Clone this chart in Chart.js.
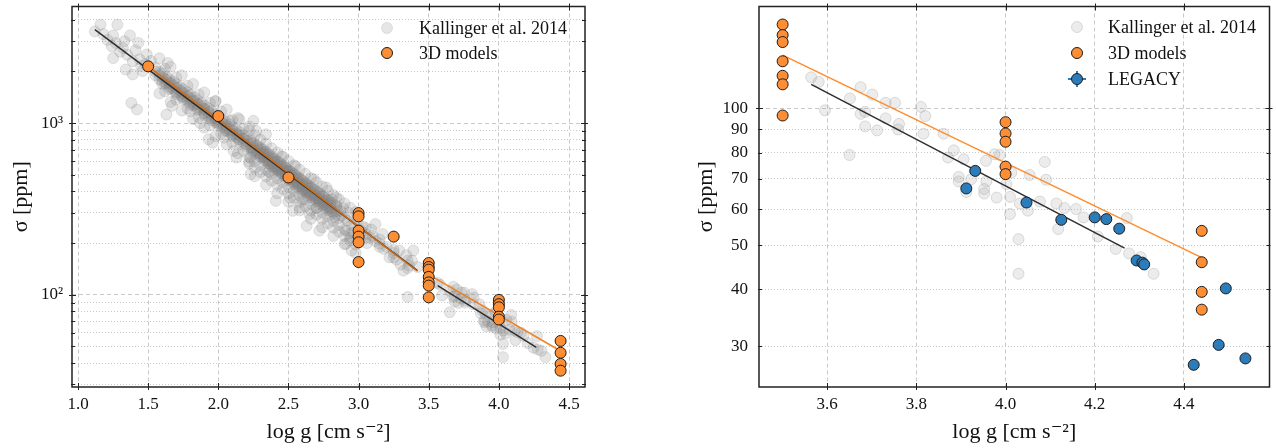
<!DOCTYPE html>
<html>
<head>
<meta charset="utf-8">
<script src="https://cdn.jsdelivr.net/npm/chart.js@4.4.1/dist/chart.umd.min.js"></script>
<style>
  html, body { margin: 0; padding: 0; background: #fff; }
  #wrap { position: relative; width: 1276px; height: 448px; }
  .panel { position: absolute; top: 0; height: 448px; }
</style>
</head>
<body>
<div id="wrap">
  <div class="panel" style="left:0;width:610px"><canvas id="giants"></canvas></div>
  <div class="panel" style="left:680px;width:596px"><canvas id="dwarfs"></canvas></div>
</div>
<script>
// Kallinger et al. 2014 sample: [log g, sigma in ppm]
const kallinger = [
  [1.12,3420],[1.16,3740],[1.28,3740],[1.25,3240],[1.37,3240],[1.27,2930],[1.32,2740],[1.43,2930],[1.25,2390],
  [1.34,2050],[1.39,2290],[1.39,1920],[1.49,2510],[1.46,2010],[1.38,1310],[1.42,1200],[1.21,3050],[1.30,2600],
  [1.35,2500],[1.44,2350],[1.48,2200],[1.41,2650],[1.18,3300],[1.24,2800],[1.33,3000],[1.45,2150],[1.52,2300],
  [1.55,2000],[1.55,1900],[1.55,2100],[1.58,1900],[1.58,1800],[1.58,1980],[1.60,1850],[1.60,1760],[1.60,1950],
  [1.60,1700],[1.63,1780],[1.63,1700],[1.63,1860],[1.65,1720],[1.65,1640],[1.65,1800],[1.65,1580],[1.68,1660],
  [1.68,1580],[1.68,1740],[1.70,1600],[1.70,1520],[1.70,1690],[1.70,1470],[1.73,1540],[1.73,1470],[1.73,1620],
  [1.75,1490],[1.75,1420],[1.75,1570],[1.75,1380],[1.78,1440],[1.78,1370],[1.78,1510],[1.80,1390],[1.80,1320],
  [1.80,1460],[1.80,1280],[1.83,1340],[1.83,1280],[1.83,1410],[1.85,1300],[1.85,1240],[1.85,1360],[1.85,1200],
  [1.88,1250],[1.88,1190],[1.88,1310],[1.90,1210],[1.90,1150],[1.90,1270],[1.90,1110],[1.93,1160],[1.93,1100],
  [1.93,1220],[1.95,1120],[1.95,1070],[1.95,1180],[1.95,1040],[1.98,1080],[1.98,1030],[1.98,1130],[2.00,1045],
  [2.00,1000],[2.00,1100],[2.00,970],[2.03,1000],[2.03,950],[2.03,1050],[2.05,975],[2.05,930],[2.05,1020],
  [2.05,900],[2.08,930],[2.08,890],[2.08,980],[2.10,905],[2.10,865],[2.10,950],[2.10,840],[2.13,870],[2.13,830],
  [2.13,910],[2.15,845],[2.15,805],[2.15,885],[2.15,780],[2.18,810],[2.18,775],[2.18,850],[2.20,785],[2.20,750],
  [2.20,825],[2.20,730],[2.23,755],[2.23,720],[2.23,790],[2.25,730],[2.25,700],[2.25,765],[2.25,680],[2.28,700],
  [2.28,670],[2.28,735],
  [1.62,1799],[1.62,1691],[1.66,1701],[1.66,1599],[1.70,1606],[1.70,1510],[1.74,1517],[1.74,1426],[1.78,1432],
  [1.78,1346],[1.82,1353],[1.82,1272],[1.86,1277],[1.86,1200],[1.90,1206],[1.90,1136],[1.94,1140],[1.94,1072],
  [1.98,1076],[1.98,1011],[2.02,1017],[2.02,956],[2.06,960],[2.06,902],[2.10,907],[2.10,853],[2.14,856],
  [2.14,805],[2.18,809],[2.18,760],
  [1.62,2069],[1.62,1529],[1.70,1847],[1.70,1365],[1.78,1647],[1.78,1217],[1.86,1469],[1.86,1085],[1.94,1311],
  [1.94,969],[2.02,1170],[2.02,864],[2.10,1043],[2.10,771],[2.18,930],[2.18,688],
  [1.58,2384],[1.58,1487],[1.66,2126],[1.66,1327],[1.74,1896],[1.74,1183],[1.82,1691],[1.82,1055],[1.90,1508],
  [1.90,941],[1.98,1345],[1.98,839],[2.06,1200],[2.06,749],[2.14,1070],[2.14,668],[2.22,955],[2.22,596],
  [1.64,2240],[1.63,1120],[1.67,1260],[1.80,1170],[1.87,1000],[1.93,804],[1.96,769],[2.04,822],[2.11,688],
  [2.13,629],[2.23,629],[2.23,504],[2.27,899],[2.34,860],[2.08,1030],[2.15,1050],[2.25,1030],[1.98,1340],
  [2.30,690],[2.30,660],[2.30,720],[2.30,640],[2.32,670],[2.32,700],[2.32,630],[2.32,650],[2.34,650],[2.34,620],
  [2.34,680],[2.34,600],[2.36,630],[2.36,660],[2.36,600],[2.36,580],[2.38,610],[2.38,640],[2.38,580],[2.38,560],
  [2.40,590],[2.40,620],[2.40,560],[2.40,540],[2.40,600],[2.42,570],[2.42,600],[2.42,545],[2.42,530],[2.44,555],
  [2.44,585],[2.44,525],[2.44,510],[2.46,540],[2.46,565],[2.46,510],[2.46,495],[2.46,550],[2.48,525],[2.48,550],
  [2.48,500],[2.48,480],[2.50,505],[2.50,530],[2.50,485],[2.50,470],[2.50,520],[2.52,495],[2.52,520],[2.52,470],
  [2.52,455],[2.54,480],[2.54,505],[2.54,455],[2.54,440],[2.56,465],[2.56,490],[2.56,445],[2.56,425],[2.56,475],
  [2.58,450],[2.58,475],[2.58,430],[2.58,415],[2.60,440],[2.60,460],[2.60,420],[2.60,405],[2.62,425],[2.62,450],
  [2.62,405],[2.62,395],[2.62,435],[2.64,415],[2.64,435],[2.64,395],[2.64,380],[2.66,400],[2.66,420],[2.66,385],
  [2.66,370],[2.68,390],[2.68,410],[2.68,375],[2.68,360],[2.70,380],[2.70,400],[2.70,365],[2.70,350],[2.72,370],
  [2.72,390],[2.72,355],[2.72,340],[2.74,360],[2.74,378],[2.74,345],[2.74,332],[2.76,350],[2.76,365],[2.76,335],
  [2.76,322],[2.78,340],[2.78,355],[2.78,325],[2.78,312],[2.80,330],[2.80,345],[2.80,318],[2.80,305],
  [2.24,772],[2.24,720],[2.24,690],[2.27,739],[2.27,690],[2.27,661],[2.30,708],[2.30,661],[2.30,633],[2.33,678],
  [2.33,632],[2.33,606],[2.36,650],[2.36,606],[2.36,581],[2.39,623],[2.39,581],[2.39,557],[2.42,597],[2.42,557],
  [2.42,534],[2.45,572],[2.45,534],[2.45,512],[2.48,548],[2.48,511],[2.48,490],[2.51,524],[2.51,489],[2.51,469],
  [2.54,502],[2.54,469],[2.54,449],[2.57,482],[2.57,449],[2.57,431],[2.60,462],[2.60,431],[2.60,413],[2.63,442],
  [2.63,412],[2.63,395],[2.66,423],[2.66,395],[2.66,379],[2.69,406],[2.69,378],[2.69,363],[2.72,389],[2.72,363],
  [2.72,348],[2.75,372],[2.75,347],[2.75,333],[2.78,357],[2.78,333],[2.78,319],[2.81,342],[2.81,319],[2.81,306],
  [2.84,328],[2.84,306],[2.84,293],
  [2.22,898],[2.22,634],[2.22,581],[2.26,847],[2.26,598],[2.26,548],[2.26,490],[2.30,800],[2.30,565],[2.30,518],
  [2.34,756],[2.34,534],[2.34,489],[2.34,437],[2.38,714],[2.38,505],[2.38,462],[2.42,674],[2.42,476],[2.42,436],
  [2.42,390],[2.46,637],[2.46,450],[2.46,412],[2.50,602],[2.50,425],[2.50,389],[2.50,348],[2.54,568],[2.54,401],
  [2.54,367],[2.58,536],[2.58,378],[2.58,347],[2.58,310],[2.62,506],[2.62,358],[2.62,328],[2.66,478],[2.66,338],
  [2.66,309],[2.66,277],[2.70,452],[2.70,320],[2.70,293],[2.74,427],[2.74,301],[2.74,276],[2.74,247],[2.78,403],
  [2.78,285],[2.78,261],[2.82,381],[2.82,269],[2.82,246],[2.82,220],[2.86,360],[2.86,254],[2.86,233],[2.90,340],
  [2.90,240],[2.90,220],[2.90,197],[2.94,321],[2.94,227],[2.94,207],[2.98,303],[2.98,214],[2.98,196],[2.98,175],
  [2.41,352],[2.51,368],[2.49,526],[2.58,322],[2.65,295],[2.53,308],[2.63,252],[2.72,236],[2.77,422],[2.84,368],
  [2.87,308],[2.91,236],[2.91,198],[2.95,181],[2.36,520],[2.45,640],[2.55,560],[2.68,470],[2.60,360],[2.70,320],
  [2.82,300],[2.85,310],[2.88,290],[2.90,280],[2.92,270],[2.95,255],[2.97,262],[3.00,240],[3.02,235],[3.05,225],
  [3.08,215],[3.10,220],[3.12,205],[3.15,198],[3.17,226],[3.12,258],[3.22,165],[3.29,181],[3.20,190],[3.25,175],
  [2.84,330],[2.86,280],[2.89,320],[2.93,300],[2.96,230],[2.99,270],[3.03,250],[3.06,200],[3.09,240],[2.81,360],
  [2.83,285],[2.94,215],[3.18,185],
  [3.05,245],[3.05,215],[3.15,210],[3.15,190],[3.25,182],[3.25,165],[3.35,158],[3.35,143],
  [3.39,181],[3.38,158],[3.32,138],[3.35,97],[3.30,150],[3.34,170],[3.42,145],[3.27,160],[3.36,148],
  [3.564,117.1],[3.581,114.4],[3.595,99.1],[3.675,111.4],[3.701,107.3],[3.651,105.2],[3.675,97.3],[3.685,98.3],
  [3.685,91.3],[3.712,89.5],[3.731,102.9],[3.752,102.9],[3.731,95.1],[3.761,92.5],[3.759,89.9],[3.650,79.0],
  [3.810,100.8],[3.820,96.2],[3.816,88.0],[3.861,88.0],[3.884,80.9],[3.871,78.0],[3.906,77.3],[3.895,70.7],
  [3.895,69.1],[3.923,69.9],[3.956,76.7],[3.975,79.3],[3.987,79.0],[3.957,69.1],[3.952,66.5],[3.952,65.0],
  [3.980,63.7],[4.010,63.9],[4.010,58.6],[4.029,51.6],[4.029,43.3],[4.088,76.3],[4.054,71.4],[4.091,69.7],
  [4.013,72.3],[4.002,68.2],[4.032,61.8],[4.050,59.6],[4.077,62.4],[4.114,61.8],[4.132,60.4],[4.158,60.1],
  [4.175,57.6],[4.118,54.3],[4.207,52.3],[4.272,57.4],[4.247,49.1],[4.277,48.0],[4.303,47.1],[4.332,43.3],
  [3.912,65.5]
];

// 3D model atmospheres
const models3d = [
  [1.5,2140],[2.0,1098],[2.5,482],[3.0,299],[3.0,286],[3.0,236],[3.0,218],[3.0,202],[3.0,155],[3.25,218],
  [3.5,153],[3.5,145],[3.5,140],[3.5,127],[3.5,118],[3.5,113],[3.5,96.5],
  [4.0,93.3],[4.0,88.1],[4.0,84.5],[4.0,74.5],[4.0,71.7],
  [4.44,53.8],[4.44,45.9],[4.44,39.5],[4.44,36.1]
];

// LEGACY dwarfs
const legacy = [
  [3.932,72.9],[3.912,66.7],[4.047,62.1],[4.125,56.9],[4.200,57.6],[4.226,57.1],[4.255,54.4],
  [4.294,46.3],[4.307,45.8],[4.311,45.4],[4.422,27.3],[4.478,30.2],[4.494,40.2],[4.538,28.2]
];

// fitted relations (end points)
const fitBlackGiants = [[1.12,3500],[3.42,138]];
const fitOrangeGiants = [[1.5,2140],[3.42,137]];
const fitBlackDwarfs = [[3.564,113],[4.267,49.3]];
const fitOrangeDwarfs = [[3.5,131],[4.44,47]];

const giantsXTicks = [1.0,1.5,2.0,2.5,3.0,3.5,4.0,4.5];
const giantsYTicks = [30,40,50,60,70,80,90,100,200,300,400,500,600,700,800,900,1000,2000,3000,4000];
const giantsYLabels = {100: '10²', 1000: '10³'};
const dwarfsXTicks = [3.6,3.8,4.0,4.2,4.4];
const dwarfsYTicks = [30,40,50,60,70,80,90,100];
const dwarfsYLabels = {30:'30',40:'40',50:'50',60:'60',70:'70',80:'80',90:'90',100:'100'};

const xTitle = 'log g [cm s⁻²]';
const yTitle = 'σ [ppm]';

const FONT = '"Liberation Serif", "DejaVu Serif", serif';
const ORANGE = '#fd8e34';
const BLUE = '#2c7cba';
const EDGE = '#1c1c1c';
const GRID = '#c9c9c9';
const GREY_L = 'rgba(128,128,128,0.2)';
const GREY_R = 'rgba(170,170,170,0.22)';
const GREY_R_EDGE = 'rgba(150,150,150,0.3)';

Chart.defaults.font.family = FONT;
Chart.defaults.color = '#111';

const toXY = arr => arr.map(([x, y]) => ({x, y}));

const framePlugin = {
    id: 'frame',
    afterDatasetsDraw(chart, args, opts) {
        const {ctx, chartArea: a} = chart;
        const xs = chart.scales.x, ys = chart.scales.y;
        ctx.save();
        ctx.strokeStyle = '#222';
        ctx.lineWidth = 1;
        ctx.beginPath();
        xs.ticks.forEach(t => {
            const px = Math.round(xs.getPixelForValue(t.value)) + 0.5;
            ctx.moveTo(px, a.bottom + 3); ctx.lineTo(px, a.bottom - 4);
            ctx.moveTo(px, a.top - 3); ctx.lineTo(px, a.top + 4);
        });
        ys.ticks.forEach(t => {
            const py = Math.round(ys.getPixelForValue(t.value)) + 0.5;
            const major = opts.yMajor.includes(t.value);
            const out = major ? 3 : 1, inn = major ? 4 : 3;
            ctx.moveTo(a.left - out, py); ctx.lineTo(a.left + inn, py);
            ctx.moveTo(a.right + out, py); ctx.lineTo(a.right - inn, py);
        });
        ctx.stroke();
        ctx.lineWidth = 1.5;
        ctx.strokeRect(a.left, a.top, a.right - a.left, a.bottom - a.top);
        ctx.restore();
    }
};

const legendPlugin = {
    id: 'markerLegend',
    afterDraw(chart, args, opts) {
        const ctx = chart.ctx;
        ctx.save();
        ctx.font = '18px ' + FONT;
        ctx.textBaseline = 'alphabetic';
        opts.items.forEach((it, i) => {
            const y = opts.y + i * opts.gap;
            if (it.errorBar) {
                ctx.strokeStyle = it.fill;
                ctx.lineWidth = 2;
                ctx.beginPath();
                ctx.moveTo(opts.x - 9, y); ctx.lineTo(opts.x + 9, y);
                ctx.moveTo(opts.x, y - 8); ctx.lineTo(opts.x, y + 8);
                ctx.stroke();
            }
            ctx.beginPath();
            ctx.arc(opts.x, y, 5.5, 0, Math.PI * 2);
            ctx.fillStyle = it.fill;
            ctx.fill();
            ctx.lineWidth = 1;
            ctx.strokeStyle = it.stroke;
            ctx.stroke();
            ctx.fillStyle = '#111';
            ctx.fillText(it.label, opts.textX, y + 6);
        });
        ctx.restore();
    }
};

function pointSet(label, data, fill, stroke, order) {
    return {
        label, data: toXY(data), order,
        pointRadius: 5.5, pointBorderWidth: 1,
        pointBackgroundColor: fill, pointBorderColor: stroke,
        showLine: false
    };
}

function lineSet(label, data, color, order) {
    return {
        label, data: toXY(data), order,
        showLine: true, borderColor: color, borderWidth: 1.5,
        pointRadius: 0, fill: false
    };
}

function buildChart(id, cfg) {
    return new Chart(document.getElementById(id), {
        type: 'scatter',
        data: { datasets: cfg.datasets },
        options: {
            responsive: true,
            maintainAspectRatio: false,
            animation: false,
            events: [],
            devicePixelRatio: 1,
            layout: { padding: { top: 5, right: cfg.padRight, bottom: 0, left: 0 } },
            scales: {
                x: {
                    type: 'linear', min: cfg.xMin, max: cfg.xMax,
                    afterBuildTicks: s => { s.ticks = cfg.xTicks.map(v => ({ value: v })); },
                    afterFit: s => { s.height = 61; s.paddingLeft = 0; s.paddingRight = 0; },
                    ticks: { callback: v => v.toFixed(1), font: { size: 17 }, color: '#111', padding: 7, maxRotation: 0, autoSkip: false },
                    grid: { color: GRID, lineWidth: 1, drawTicks: false },
                    border: { display: false, dash: [4, 3] },
                    title: { display: true, text: xTitle, font: { size: 22 }, color: '#111', padding: { top: 0, bottom: 3 } }
                },
                y: {
                    type: 'logarithmic', min: cfg.yMin, max: cfg.yMax,
                    afterBuildTicks: s => { s.ticks = cfg.yTicks.map(v => ({ value: v })); },
                    afterFit: s => { s.width = cfg.yWidth; s.paddingTop = 0; s.paddingBottom = 0; },
                    ticks: { callback: v => cfg.yLabels[v] || '', font: { size: 17 }, color: '#111', padding: cfg.yPad, autoSkip: false },
                    grid: { color: GRID, lineWidth: 1, drawTicks: false },
                    border: { display: false, dash: ctx => (ctx.tick && cfg.yMajor.includes(ctx.tick.value)) ? [4, 3] : [1, 2] },
                    title: { display: true, text: yTitle, font: { size: 22 }, color: '#111', padding: { top: cfg.yTitlePad, bottom: 0 } }
                }
            },
            plugins: {
                legend: { display: false },
                tooltip: { enabled: false },
                frame: { yMajor: cfg.yMajor },
                markerLegend: cfg.legend
            }
        },
        plugins: [framePlugin, legendPlugin]
    });
}

document.addEventListener('DOMContentLoaded', () => {
    buildChart('giants', {
        xMin: 0.957, xMax: 4.614, yMin: 29.0, yMax: 4775,
        xTicks: giantsXTicks, yTicks: giantsYTicks, yLabels: giantsYLabels, yMajor: [100, 1000],
        yWidth: 72, yPad: 9, yTitlePad: 8, padRight: 25,
        datasets: [
            pointSet('3D models', models3d, ORANGE, EDGE, 1),
            lineSet('fit 3D', fitOrangeGiants, '#d66d12', 3),
            lineSet('fit 3D dwarfs', fitOrangeDwarfs, '#f08224', 3),
            lineSet('fit Kallinger', fitBlackGiants, '#2e2e2e', 4),
            lineSet('fit Kallinger dwarfs', fitBlackDwarfs, '#2e2e2e', 4),
            pointSet('Kallinger et al. 2014', kallinger, GREY_L, GREY_L, 5)
        ],
        legend: {
            x: 387, textX: 419, y: 28, gap: 25,
            items: [
                { label: 'Kallinger et al. 2014', fill: GREY_L, stroke: GREY_L },
                { label: '3D models', fill: ORANGE, stroke: EDGE }
            ]
        }
    });

    buildChart('dwarfs', {
        xMin: 3.447, xMax: 4.592, yMin: 24.4, yMax: 167.6,
        xTicks: dwarfsXTicks, yTicks: dwarfsYTicks, yLabels: dwarfsYLabels, yMajor: [100],
        yWidth: 79, yPad: 11, yTitlePad: 13, padRight: 3,
        datasets: [
            pointSet('3D models', models3d.filter(p => p[0] > 3.45), ORANGE, EDGE, 1),
            pointSet('LEGACY', legacy, BLUE, EDGE, 2),
            lineSet('fit 3D dwarfs', fitOrangeDwarfs, '#ff8c2c', 3),
            lineSet('fit Kallinger dwarfs', fitBlackDwarfs, '#2e2e2e', 4),
            pointSet('Kallinger et al. 2014', kallinger.filter(p => p[0] > 3.45), GREY_R, GREY_R_EDGE, 5)
        ],
        legend: {
            x: 397, textX: 428, y: 27, gap: 26,
            items: [
                { label: 'Kallinger et al. 2014', fill: GREY_R, stroke: GREY_R_EDGE },
                { label: '3D models', fill: ORANGE, stroke: EDGE },
                { label: 'LEGACY', fill: BLUE, stroke: EDGE, errorBar: true }
            ]
        }
    });
});
</script>
</body>
</html>
